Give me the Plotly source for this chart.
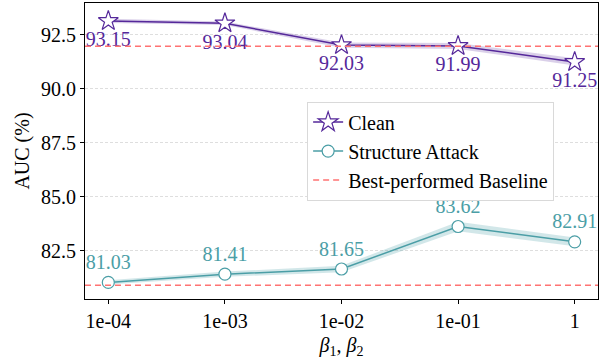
import plotly.graph_objects as go

# Sensitivity of AUC to the loss weights beta_1, beta_2
beta_labels = ["1e-04", "1e-03", "1e-02", "1e-01", "1"]
clean_auc = [93.15, 93.04, 92.03, 91.99, 91.25]
clean_std = [0.10, 0.08, 0.12, 0.14, 0.17]
attack_auc = [81.03, 81.41, 81.65, 83.62, 82.91]
attack_std = [0.10, 0.12, 0.15, 0.22, 0.20]
baseline_clean = 91.97
baseline_attack = 80.90

y_ticks = [82.5, 85.0, 87.5, 90.0, 92.5]
x_range = [-0.2, len(beta_labels) - 1 + 0.2]
y_range = [80.26, 93.98]

PURPLE = "#55289a"
TEAL = "#4b9ea6"
RED = "#ff7373"
FONT = "Liberation Serif"

xs = list(range(len(beta_labels)))


def band(mean, std, color):
    upper = [m + s for m, s in zip(mean, std)]
    lower = [m - s for m, s in zip(mean, std)]
    return go.Scatter(
        x=xs + xs[::-1], y=upper + lower[::-1],
        fill="toself", fillcolor=color, line=dict(width=0),
        mode="lines", hoverinfo="skip", showlegend=False,
    )


fig = go.Figure()
fig.add_trace(band(clean_auc, clean_std, "rgba(85,40,154,0.22)"))
fig.add_trace(band(attack_auc, attack_std, "rgba(75,158,166,0.25)"))

fig.add_trace(go.Scatter(
    x=xs, y=clean_auc, name="Clean",
    mode="lines+markers+text",
    line=dict(color=PURPLE, width=1.5),
    marker=dict(symbol="star", size=15, color="white",
                line=dict(color=PURPLE, width=1.2)),
    text=[f"{v:.2f}" for v in clean_auc], textposition="bottom center",
    textfont=dict(family=FONT, size=20, color=PURPLE),
))
fig.add_trace(go.Scatter(
    x=xs, y=attack_auc, name="Structure Attack",
    mode="lines+markers+text",
    line=dict(color=TEAL, width=1.5),
    marker=dict(symbol="circle", size=12, color="white",
                line=dict(color=TEAL, width=1.2)),
    text=[f"{v:.2f}" for v in attack_auc], textposition="top center",
    textfont=dict(family=FONT, size=20, color=TEAL),
))
fig.add_trace(go.Scatter(
    x=x_range, y=[baseline_clean] * 2, name="Best-performed Baseline",
    mode="lines", line=dict(color=RED, width=1.5, dash="6px,4px"),
))
fig.add_trace(go.Scatter(
    x=x_range, y=[baseline_attack] * 2, showlegend=False,
    mode="lines", line=dict(color=RED, width=1.5, dash="6px,4px"),
))

fig.update_layout(
    width=605, height=364,
    margin=dict(l=85, r=7, t=3, b=65),
    paper_bgcolor="white", plot_bgcolor="white",
    font=dict(family=FONT, size=20, color="black"),
    legend=dict(
        x=0.433, y=0.667, xanchor="left", yanchor="top",
        bgcolor="white", bordercolor="#d9d9d9", borderwidth=1,
        font=dict(family=FONT, size=20),
    ),
    showlegend=True,
)
fig.update_xaxes(
    range=x_range, tickvals=xs, ticktext=beta_labels,
    tickfont=dict(family=FONT, size=20),
    showgrid=False, zeroline=False,
    showline=True, linecolor="black", linewidth=1, mirror=True,
    ticks="outside", ticklen=4, tickcolor="black",
    title=dict(text="<i>β</i><sub>1</sub>, <i>β</i><sub>2</sub>", standoff=6,
               font=dict(family=FONT, size=20)),
)
fig.update_yaxes(
    range=y_range, tickvals=y_ticks, ticktext=[f"{v:.1f}" for v in y_ticks],
    tickfont=dict(family=FONT, size=20),
    showgrid=True, gridcolor="#dedede", griddash="3px,2px", gridwidth=1,
    zeroline=False,
    showline=True, linecolor="black", linewidth=1, mirror=True,
    ticks="outside", ticklen=4, tickcolor="black",
    title=dict(text="AUC (%)", standoff=6, font=dict(family=FONT, size=20)),
)

fig.write_html("out.html")
